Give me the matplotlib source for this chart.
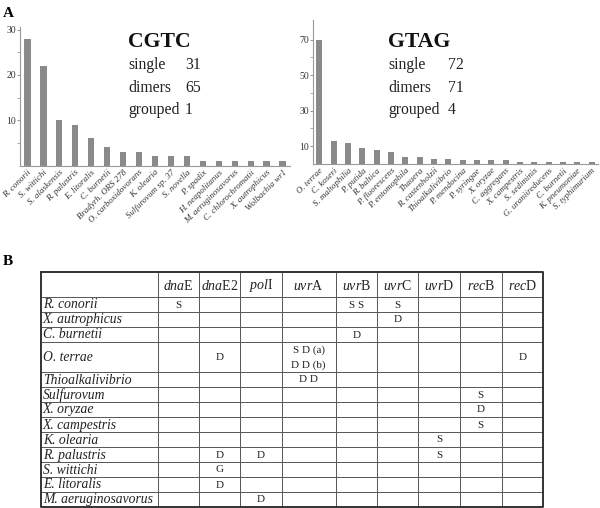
import matplotlib as mpl
import matplotlib.pyplot as plt
import numpy as np

plt.rcParams['font.family'] = ['Liberation Serif', 'DejaVu Serif']
plt.rcParams['mathtext.fontset'] = 'custom'
plt.rcParams['mathtext.rm'] = 'Liberation Serif'
plt.rcParams['mathtext.it'] = 'Liberation Serif:italic'

# CGTC chart
cgtc_names = ['R. conorii', 'S. wittichi', 'S. alaskensis', 'R. palustris', 'E. litoralis',
              'C. burnetii', 'Bradyrh. ORS 278', 'O. carboxidovorans', 'K. olearia',
              'Sulfurovum sp. 37', 'S. novella', 'P. spadix', 'H. neapolitanus',
              'M. aeruginosavorus', 'C. chlorochromatii', 'X. autrophicus', 'Wolbachia wr1']
cgtc_vals = [28, 22, 10, 9, 6, 4, 3, 3, 2, 2, 2, 1, 1, 1, 1, 1, 1]
cgtc_counts = [('single', 31), ('dimers', 65), ('grouped', 1)]

# GTAG chart
gtag_names = ['O. terrae', 'C. koseri', 'S. maltophilia', 'P. putida', 'R. baltica',
              'P. fluorescens', 'P. entomophila', 'Thauera', 'R. castenholzii',
              'Thioalkalivibrio', 'P. mendocina', 'P. syringae', 'X. oryzae', 'C. aggregans',
              'X. campestris', 'S. sediminis', 'G. uraniireducens', 'C. burnetii',
              'K. pneumoniae', 'S. typhimurium']
gtag_vals = [70, 13, 12, 9, 8, 7, 4, 4, 3, 3, 2, 2, 2, 2, 1, 1, 1, 1, 1, 1]
gtag_counts = [('single', 72), ('dimers', 71), ('grouped', 4)]

# table
genes = [r'$\it{dna}$E', r'$\it{dna}$E2', r'$\it{pol}$I', r'$\it{uvr}$A', r'$\it{uvr}$B',
         r'$\it{uvr}$C', r'$\it{uvr}$D', r'$\it{rec}$B', r'$\it{rec}$D']
species = ['R. conorii', 'X. autrophicus', 'C. burnetii', 'O. terrae', 'Thioalkalivibrio',
           'Sulfurovum', 'X. oryzae', 'X. campestris', 'K. olearia', 'R. palustris',
           'S. wittichi', 'E. litoralis', 'M. aeruginosavorus']
cells = {
    ('R. conorii', 0): 'S', ('R. conorii', 4): 'S S', ('R. conorii', 5): 'S',
    ('X. autrophicus', 5): 'D',
    ('C. burnetii', 4): 'D',
    ('O. terrae', 1): 'D', ('O. terrae', 3): 'S D (a)\nD D (b)', ('O. terrae', 8): 'D',
    ('Thioalkalivibrio', 3): 'D D',
    ('Sulfurovum', 7): 'S', ('X. oryzae', 7): 'D', ('X. campestris', 7): 'S',
    ('K. olearia', 6): 'S',
    ('R. palustris', 1): 'D', ('R. palustris', 2): 'D', ('R. palustris', 6): 'S',
    ('S. wittichi', 1): 'G', ('E. litoralis', 1): 'D', ('M. aeruginosavorus', 2): 'D',
}
row_units = [2 if s == 'O. terrae' else 1 for s in species]

fig = plt.figure(figsize=(6, 5.08), dpi=100)
W, H = 600, 508


def bar_panel(rect, names, vals, ylim, major, minor, title, counts, tx, nx):
    ax = fig.add_axes(rect)
    x = np.arange(len(names))
    ax.bar(x, vals, width=0.42, color='#8a8a8a')
    ax.set_xlim(-0.45, len(names) - 0.55)
    ax.set_ylim(0, ylim)
    ax.set_xticks(x)
    ax.set_xticklabels(names, rotation=45, ha='right', rotation_mode='anchor',
                       fontsize=6.4, style='italic', color='#333333')
    ax.tick_params(axis='x', length=0, pad=2)
    ax.set_yticks(major)
    ax.set_yticks(minor, minor=True)
    ax.tick_params(axis='y', which='both', length=2, color='#999999', labelsize=7,
                   labelcolor='#333333', pad=1)
    for s in ['top', 'right']:
        ax.spines[s].set_visible(False)
    for s in ['left', 'bottom']:
        ax.spines[s].set_color('#999999')
        ax.spines[s].set_linewidth(0.8)
    fig.text(tx / W, 1 - 47 / H, title, fontsize=15.7, fontweight='bold', color='#111111')
    for i, (lab, n) in enumerate(counts):
        yb = 1 - (69 + 22.5 * i) / H
        fig.text(tx / W, yb, lab, fontsize=11.3, color='#222222')
        fig.text(nx / W, yb, str(n), fontsize=11.3, color='#222222')
    return ax


bar_panel([20 / W, 1 - 165.5 / H, 270 / W, 138.5 / H], cgtc_names, cgtc_vals, 30.6,
          [10, 20, 30], [5, 15, 25], 'CGTC', cgtc_counts, 128, 185)
bar_panel([313 / W, 1 - 164 / H, 285 / W, 144 / H], gtag_names, gtag_vals, 81,
          [10, 30, 50, 70], [20, 40, 60], 'GTAG', gtag_counts, 388, 448)

fig.text(3 / W, 1 - 17 / H, 'A', fontsize=11, fontweight='bold')
fig.text(3 / W, 1 - 265 / H, 'B', fontsize=11, fontweight='bold')

# table panel in pixel coordinates
tb = fig.add_axes([0, 0, 1, 1])
tb.set_xlim(0, W)
tb.set_ylim(H, 0)
tb.axis('off')

col_edges = [40.7, 158, 199, 240, 281.7, 335.7, 377.3, 418.3, 460, 501.7, 543.3]
top, head_bot, row_h = 272, 297, 15
row_edges = [head_bot]
for u in row_units:
    row_edges.append(row_edges[-1] + u * row_h)
bottom = row_edges[-1]

for xe in col_edges[1:-1]:
    tb.plot([xe, xe], [top, bottom], color='#555555', lw=0.7)
for ye in row_edges[:-1]:
    tb.plot([col_edges[0], col_edges[-1]], [ye, ye], color='#555555', lw=0.7)
tb.plot([col_edges[0], col_edges[-1], col_edges[-1], col_edges[0], col_edges[0]],
        [top, top, bottom, bottom, top], color='#333333', lw=1.4, clip_on=False)

for j, g in enumerate(genes):
    cx = (col_edges[j + 1] + col_edges[j + 2]) / 2
    tb.text(cx, (top + head_bot) / 2 + 1, g, ha='center', va='center', fontsize=10,
            color='#222222')

for i, sp in enumerate(species):
    cy = (row_edges[i] + row_edges[i + 1]) / 2
    tb.text(col_edges[0] + 2, cy + 0.5, sp, ha='left', va='center', fontsize=9.8,
            style='italic', color='#222222')
    for j in range(len(genes)):
        v = cells.get((sp, j))
        if v:
            cx = (col_edges[j + 1] + col_edges[j + 2]) / 2
            tb.text(cx, cy + 0.5, v, ha='center', va='center', fontsize=8,
                    color='#222222', linespacing=1.7)

fig.savefig('out.png', dpi=100)
